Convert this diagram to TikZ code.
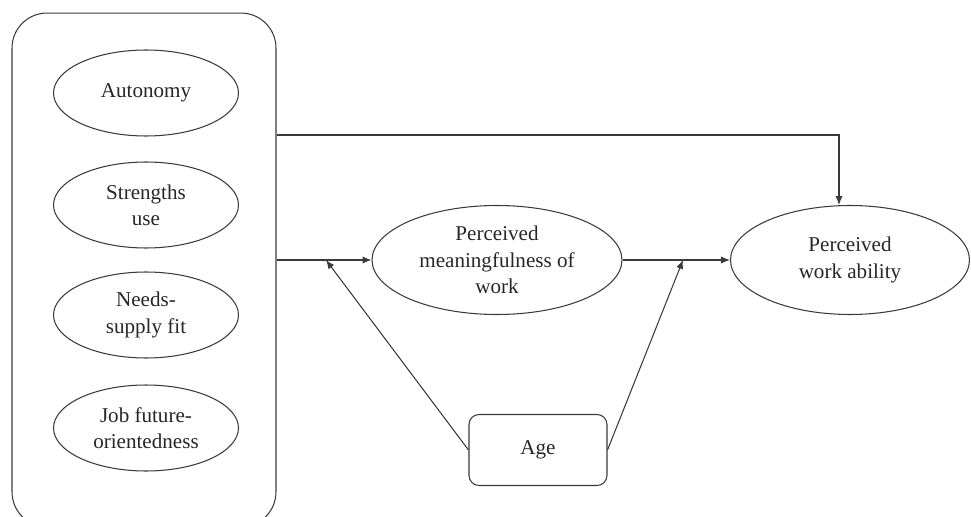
\documentclass[tikz,border=0pt]{standalone}
\usepackage{fontspec}
\setmainfont{Liberation Serif}
\usetikzlibrary{shapes.geometric,arrows.meta}
\definecolor{ln}{HTML}{3A3A3A}
\definecolor{txt}{HTML}{262626}
\tikzset{
  var/.style={draw=ln, ellipse, line width=0.6pt, minimum width=3.7cm, minimum height=1.72cm, inner sep=0pt, align=center, text=txt, font=\fontsize{12}{15}\selectfont},
  outc/.style={var, minimum width=5cm, minimum height=2.18cm},
  grpbox/.style={draw=ln, rounded corners=0.7cm, line width=0.6pt, minimum width=5.28cm, minimum height=10.28cm},
  modbox/.style={draw=ln, rounded corners=0.2cm, line width=0.6pt, minimum width=2.76cm, minimum height=1.42cm, text=txt, font=\fontsize{12}{15}\selectfont},
  link/.style={draw=ln, line width=0.6pt},
  arr/.style={link, -{Latex[length=5pt,width=4pt]}}
}
\begin{document}
\begin{tikzpicture}[x=0.02cm,y=-0.02cm]
  \useasboundingbox (0,0) rectangle (971,517);
  \clip (0,0) rectangle (971,517);
  % job resources
  \node[grpbox] (grp) at (144,270) {};
  \node[var] (aut) at (146,93) {Autonomy};
  \node[var] (str) at (146,205) {Strengths\\use};
  \node[var] (nsf) at (146,315) {Needs-\\supply fit};
  \node[var] (jfo) at (146,428) {Job future-\\orientedness};
  % mediator, outcome, moderator
  \node[outc] (mean) at (497,260) {Perceived\\meaningfulness of\\work};
  \node[outc, minimum width=4.78cm] (wab) at (850,260) {Perceived\\work ability};
  \node[modbox] (age) at (538,450) {Age};
  \coordinate (top) at (839,135);
  \coordinate (m1) at (326,260);
  \coordinate (m2) at (683,260);
  \draw[arr] (grp.east |- top) -- (top) -- (top |- wab.north);
  \draw[arr] (grp.east |- mean) -- (mean.west);
  \draw[arr] (mean.east) -- (wab.west);
  \draw[arr] (age.west) -- (m1);
  \draw[arr] (age.east) -- (m2);
\end{tikzpicture}
\end{document}
